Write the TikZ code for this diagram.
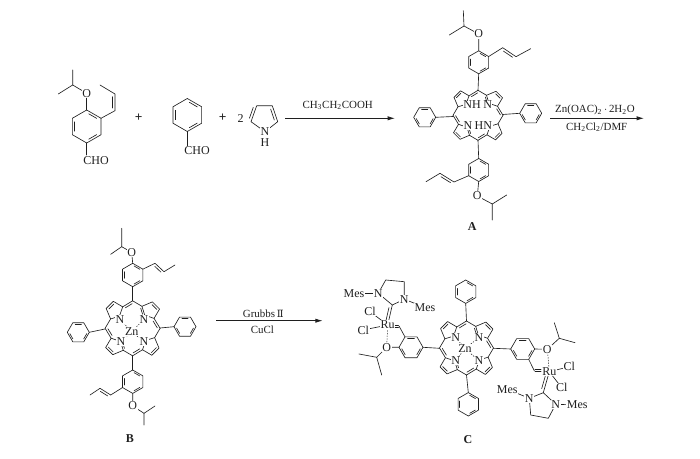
\documentclass[tikz,border=0pt]{standalone}
\usepackage{fontspec}
\setmainfont{Liberation Serif}
\newfontfamily\dvs{DejaVu Serif}
\usetikzlibrary{calc,arrows.meta}
\definecolor{ink}{gray}{0.12}
\tikzset{
  bond/.style={draw=ink,line width=0.48pt,line cap=round,line join=round},
  coord/.style={draw=ink,line width=0.4pt,dash pattern=on 1pt off 1pt},
  atom/.style={text=ink,fill=white,inner sep=0.4pt,font=\fontsize{9}{10}\selectfont},
  reagent/.style={text=ink,inner sep=0pt,font=\fontsize{8.2}{10}\selectfont},
  cpd/.style={text=ink,inner sep=0pt,font=\fontsize{9}{10}\selectfont\bfseries},
  rxn/.style={draw=ink,line width=0.6pt,-{Latex[length=5.5pt,width=3.2pt]}},
}
% inner double-bond line, offset #3 to the canvas-left of A->B
\newcommand\DB[3]{\draw[bond] ($(#1)!0.16!(#2)!#3!90:(#2)$) -- ($(#2)!0.16!(#1)!-#3!90:(#1)$);}
% benzene: cx cy r rot
\newcommand\Benz[4]{%
  \begin{scope}[shift={(#1,#2)}]
    \draw[bond] (#4:#3) -- (#4+60:#3) -- (#4+120:#3) -- (#4+180:#3) -- (#4+240:#3) -- (#4+300:#3) -- cycle;
    \foreach \k in {0,120,240}{
      \draw[bond] (#4+\k+9:0.78*#3) -- (#4+\k+51:0.78*#3);
    }
  \end{scope}}
% porphyrin core: cx cy scale
\newcommand\Porph[3]{%
  \begin{scope}[shift={(#1,#2)},scale=#3]
    \foreach \r in {0,90,180,270}{
      \begin{scope}[rotate=\r]
        \coordinate (M) at (0,-25);
        \coordinate (a1) at (-9,-19.5);
        \coordinate (b1) at (-17.5,-24.5);
        \coordinate (b2) at (-24,-18);
        \coordinate (a2) at (-20,-8.5);
        \coordinate (Nc) at (-12,-11);
        \coordinate (M2) at (-25,0);
        \draw[bond] (M) -- (a1) -- (b1) -- (b2) -- (a2) -- (M2);
        \draw[bond] (a1) -- (Nc) -- (a2);
        \DB{b1}{b2}{1.5pt}
        \DB{M}{a1}{1.5pt}
        \ifnum\r=90 \DB{Nc}{a2}{1.2pt}\fi
        \ifnum\r=270 \DB{Nc}{a2}{1.2pt}\fi
      \end{scope}
    }
  \end{scope}}
\begin{document}
\begin{tikzpicture}[x=0.75pt,y=-0.75pt]
\useasboundingbox (0,0) rectangle (700,459);
\fill[white] (0,0) rectangle (700,459);

%% ---------- aldehyde
\Benz{86.7}{126.5}{16.5}{30}
\draw[bond] (86.7,110) -- (86.7,93.3);
\draw[bond] (86.7,93.3) -- (72.7,85) -- (72.7,70);
\draw[bond] (72.7,85) -- (58.3,94);
\coordinate (v1) at (115,110.7);
\coordinate (v2) at (115,94);
\draw[bond] (101,118.3) -- (v1) -- (v2) -- (100,85);
\DB{v1}{v2}{2pt}
\draw[bond] (86.7,143) -- (86.7,155);
\node[atom] (o1) at (86.7,93.8) {O};
\node[atom] (cho1) at (96,160.7) {CHO};
\node[text=ink,inner sep=0pt,font=\fontsize{10}{10}\selectfont\bfseries] (plus1) at (138.7,117.3) {+};

%% ---------- benzaldehyde
\Benz{187.3}{115}{16.5}{30}
\draw[bond] (187.3,131.5) -- (187.3,146);
\node[atom] (cho2) at (197,150.7) {CHO};
\node[text=ink,inner sep=0pt,font=\fontsize{10}{10}\selectfont\bfseries] (plus2) at (222.7,117.3) {+};
\node[atom,fill=none] (two) at (240.7,118.3) {2};

%% ---------- pyrrole
\coordinate (p1) at (251,121.7);
\coordinate (p2) at (256.7,105.7);
\coordinate (p3) at (272.3,105.7);
\coordinate (p4) at (277.7,121.7);
\coordinate (p5) at (265,131.7);
\draw[bond] (p5) -- (p1) -- (p2) -- (p3) -- (p4) -- (p5);
\DB{p2}{p1}{-2pt}
\DB{p3}{p4}{-2pt}
\node[atom] (pN) at (265,131.7) {N};
\node[atom,fill=none] (pH) at (265,142.3) {H};

%% ---------- arrow 1
\coordinate (a1s) at (285,118.3);
\coordinate (a1e) at (395,118.3);
\draw[rxn] (a1s) -- (a1e);
\node[reagent] (r1) at (337.7,105.7) {CH\textsubscript{3}CH\textsubscript{2}COOH};

%% ---------- compound A
\Porph{478}{115.3}{1}
\Benz{478.7}{62.3}{11.5}{30}
\draw[bond] (478.7,73.8) -- (478,90.3);
\draw[bond] (478.7,50.8) -- (478.7,34) -- (464,26) -- (463.3,10.7);
\draw[bond] (464,26) -- (449.3,35);
\coordinate (va1) at (502.7,47.7);
\coordinate (va2) at (516,56.7);
\draw[bond] (488.7,56.5) -- (va1) -- (va2) -- (530.7,48.7);
\DB{va1}{va2}{-1.8pt}
\node[atom] (oa1) at (478.7,34) {O};
\Benz{478.7}{170}{11.5}{30}
\draw[bond] (478.7,158.5) -- (478,140.3);
\draw[bond] (478.7,181.5) -- (477.3,196) -- (492.3,204) -- (492.3,220);
\draw[bond] (492.3,204) -- (506.7,195);
\coordinate (vb1) at (454,182);
\coordinate (vb2) at (440,173.3);
\draw[bond] (468.7,175.7) -- (vb1) -- (vb2) -- (426,181.7);
\DB{vb1}{vb2}{1.8pt}
\node[atom] (oa2) at (477.3,196) {O};
\Benz{424.7}{117.3}{11}{0}
\draw[bond] (453.3,116.5) -- (435.7,117.3);
\Benz{530.7}{113.3}{11}{0}
\draw[bond] (502.7,114.5) -- (519.7,113.3);
\node[atom] (anh) at (472,105) {NH};
\node[atom] (an) at (487.6,105) {N};
\node[atom] (an2) at (468,126) {N};
\node[atom] (ahn) at (483.3,126) {HN};
\node[cpd] (lA) at (472.3,226.7) {A};

%% ---------- arrow 2
\coordinate (a2s) at (550,118.3);
\coordinate (a2e) at (644,118.3);
\draw[rxn] (a2s) -- (a2e);
\node[reagent] (r2a) at (595,110) {Zn(OAC)\textsubscript{2}\,$\cdot$\,2H\textsubscript{2}O};
\node[reagent] (r2b) at (596.7,127) {CH\textsubscript{2}Cl\textsubscript{2}/DMF};

%% ---------- compound B
\Porph{132.6}{328.3}{1.1}
\Benz{132.7}{275}{11.7}{30}
\draw[bond] (132.7,286.7) -- (132.7,300.8);
\draw[bond] (132.7,263.3) -- (131.7,252.3) -- (121.7,246.7) -- (121.7,228.3);
\draw[bond] (121.7,246.7) -- (110.7,254.3);
\coordinate (vc1) at (155,263.3);
\coordinate (vc2) at (164,271.7);
\draw[bond] (142.8,269.2) -- (vc1) -- (vc2) -- (175,265);
\DB{vc1}{vc2}{-1.8pt}
\node[atom] (ob1) at (131.7,252.3) {O};
\Benz{132.7}{381.7}{11.7}{30}
\draw[bond] (132.7,370) -- (132.7,355.8);
\draw[bond] (132.7,393.4) -- (132.7,406) -- (144,413.3) -- (144,425);
\draw[bond] (144,413.3) -- (155,406);
\coordinate (vd1) at (110.7,395);
\coordinate (vd2) at (100,388.3);
\draw[bond] (122.6,387.5) -- (vd1) -- (vd2) -- (90,395);
\DB{vd1}{vd2}{1.8pt}
\node[atom] (ob2) at (132.7,406) {O};
\Benz{78.3}{332.3}{11}{0}
\draw[bond] (105,329) -- (89.3,332.3);
\Benz{185}{326.7}{11}{0}
\draw[bond] (160.1,328) -- (174,326.7);
\draw[coord] (120,319.3) -- (131.7,331.7) -- (144,319.3);
\draw[coord] (121,341.7) -- (131.7,331.7) -- (144,341.7);
\node[atom] (bn1) at (120,319.3) {N};
\node[atom] (bn2) at (144,319.3) {N};
\node[atom] (bn3) at (121,341.7) {N};
\node[atom] (bn4) at (144,341.7) {N};
\node[atom] (bzn) at (131.7,331.7) {Zn};
\node[cpd] (lB) at (130,439) {B};

%% ---------- arrow 3
\coordinate (a3s) at (216,320.7);
\coordinate (a3e) at (322.7,320.7);
\draw[rxn] (a3s) -- (a3e);
\node[reagent] (r3a) at (263.3,314) {Grubbs\,{\dvs\fontsize{7.5}{10}\selectfont Ⅱ}};
\node[reagent] (r3b) at (262.3,330) {CuCl};

%% ---------- compound C core
\Porph{466.5}{348}{1.08}
\Benz{465.7}{291.7}{11.7}{30}
\draw[bond] (465.7,303.4) -- (466.5,321);
\Benz{468.3}{404.3}{11.7}{30}
\draw[bond] (468.3,392.6) -- (466.5,375);
\draw[coord] (455.7,337.7) -- (465,348.3) -- (479,337.7);
\draw[coord] (455.7,361) -- (465,348.3) -- (479,361);
\node[atom] (cn1) at (455.7,337.7) {N};
\node[atom] (cn2) at (479,337.7) {N};
\node[atom] (cn3) at (455.7,361) {N};
\node[atom] (cn4) at (479,361) {N};
\node[atom] (czn) at (465,348.3) {Zn};
\node[cpd] (lC) at (468,440) {C};

%% left Ru fragment
\Benz{411}{347.3}{12}{0}
\draw[bond] (423,347.3) -- (439.5,348.3);
\draw[bond] (405,336.9) -- (399,326);
\draw[bond] (393.5,325.2) -- (398.5,325.2);
\draw[bond] (393.5,327.2) -- (398.5,327.2);
\draw[bond] (399,347.3) -- (386.7,347.3) -- (376.7,357.3) -- (359,354);
\draw[bond] (376.7,357.3) -- (381.7,375);
\draw[coord] (387.7,325) -- (386.7,347.3);
\coordinate (cl1) at (392.3,305);
\coordinate (cl2) at (387.7,325);
\draw[bond] (cl1) -- (cl2);
\DB{cl1}{cl2}{-2pt}
\draw[bond] (378.3,293.3) -- (cl1) -- (404.3,299.3) -- (404.3,281.7) -- (385.7,280) -- (378.3,293.3);
\draw[bond] (387.7,325) -- (370,311.7);
\draw[bond] (387.7,325) -- (363.3,330);
\draw[bond] (378.3,293.3) -- (354,293.3);
\draw[bond] (404.3,299.3) -- (425,307.3);
\node[atom] (cru1) at (387.7,325) {Ru};
\node[atom] (ccl1) at (370,311.7) {Cl};
\node[atom] (ccl2) at (363.3,330) {Cl};
\node[atom] (co1) at (386.7,347.3) {O};
\node[atom] (cnl1) at (378.3,293.3) {N};
\node[atom] (cnr1) at (404.3,299.3) {N};
\node[atom] (cm1) at (354,293.3) {Mes};
\node[atom] (cm2) at (425,307.3) {Mes};

%% right Ru fragment
\Benz{522.7}{349}{12}{0}
\draw[bond] (493.5,348.3) -- (510.7,349);
\draw[bond] (528.7,359.4) -- (534.3,370.7);
\draw[bond] (535,369.7) -- (541,369.7);
\draw[bond] (535,371.7) -- (541,371.7);
\draw[bond] (534.7,349) -- (547.3,349.3) -- (559.3,338.3) -- (554.3,322.7);
\draw[bond] (559.3,338.3) -- (575,342.7);
\draw[coord] (547.3,349.3) -- (549.3,371.7);
\coordinate (cr1) at (543.3,392.7);
\coordinate (cr2) at (549.3,371.7);
\draw[bond] (cr1) -- (cr2);
\DB{cr1}{cr2}{2pt}
\draw[bond] (529.3,398.3) -- (cr1) -- (555.7,404.3) -- (548.3,418.3) -- (530.7,415) -- (529.3,398.3);
\draw[bond] (549.3,371.7) -- (569.3,366.7);
\draw[bond] (549.3,371.7) -- (561.7,387.7);
\draw[bond] (529.3,398.3) -- (507.3,389.3);
\draw[bond] (555.7,404.3) -- (577.3,405);
\node[atom] (cru2) at (549.3,371.7) {Ru};
\node[atom] (ccl3) at (569.3,366.7) {Cl};
\node[atom] (ccl4) at (561.7,387.7) {Cl};
\node[atom] (co2) at (547.3,349.3) {O};
\node[atom] (cnl2) at (529.3,398.3) {N};
\node[atom] (cnr2) at (555.7,404.3) {N};
\node[atom] (cm3) at (507.3,389.3) {Mes};
\node[atom] (cm4) at (577.3,405) {Mes};
\end{tikzpicture}
\end{document}
